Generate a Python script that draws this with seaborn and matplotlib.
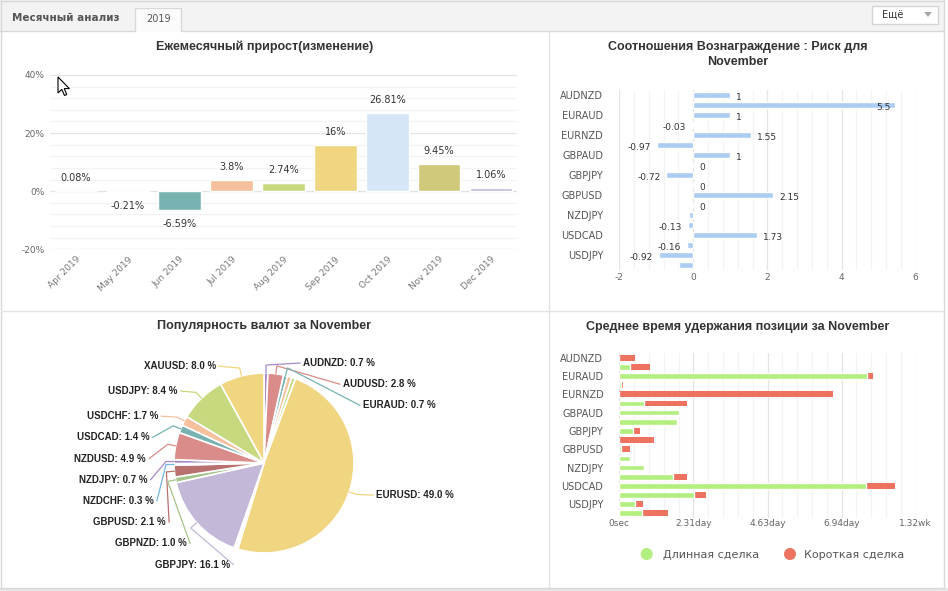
import numpy as np
import pandas as pd
import matplotlib
matplotlib.use("Agg")
import matplotlib.pyplot as plt
import seaborn as sns
from matplotlib.patches import Rectangle, Polygon, Circle
from matplotlib.ticker import MultipleLocator, FuncFormatter

# ---------------- data ----------------
months = ["Apr 2019", "May 2019", "Jun 2019", "Jul 2019", "Aug 2019",
          "Sep 2019", "Oct 2019", "Nov 2019", "Dec 2019"]
monthly_growth = [0.08, -0.21, -6.59, 3.8, 2.74, 16, 26.81, 9.45, 1.06]

symbols = ["AUDNZD", "AUDUSD", "EURAUD", "EURJPY", "EURNZD", "EURUSD",
           "GBPAUD", "GBPCHF", "GBPJPY", "GBPNZD", "GBPUSD", "NZDCHF",
           "NZDJPY", "NZDUSD", "USDCAD", "USDCHF", "USDJPY", "XAUUSD"]
reward_risk = [1, 5.45, 1, -0.03, 1.55, -0.97, 1, 0, -0.72, 0, 2.15, 0,
               -0.11, -0.13, 1.73, -0.16, -0.92, -0.39]
reward_risk_labels = ["1", "5.5", "1", "-0.03", "1.55", "-0.97", "1", "0",
                      "-0.72", "0", "2.15", "0", "", "-0.13", "1.73",
                      "-0.16", "-0.92", ""]

pie_share = [0.7, 2.8, 0.7, 0.8, 0.7, 49.0, 0.35, 0.35, 16.1, 1.0, 2.1,
             0.3, 0.7, 4.9, 1.4, 1.7, 8.4, 8.0]
pie_labelled = [True, True, True, False, False, True, False, False, True,
                True, True, True, True, True, True, True, True, True]

hold_long_days = [0, 0.33, 7.74, 0.06, 0, 0.76, 1.86, 1.81, 0.44, 0, 0.04,
                  0.33, 0.78, 1.69, 7.70, 2.34, 0.49, 0.71]
hold_short_days = [0.48, 0.62, 0.17, 0.04, 6.67, 1.36, 0, 0, 0.22, 1.09,
                   0.28, 0, 0, 0.43, 0.92, 0.37, 0.26, 0.81]

legend_labels = ["Длинная сделка", "Короткая сделка"]

# ---------------- style ----------------
palette12 = ["#a58bc7", "#d98c89", "#78b3b2", "#f4c09d", "#c6d97e", "#f0d680",
             "#d5e6f6", "#d0c87a", "#c3b8d7", "#a4c48a", "#b9716f", "#73b5e3"]
rr_color = "#abcdf2"
long_color = "#b3ef80"
short_color = "#ee7260"
grid_major = "#e4e4e4"
grid_minor = "#f3f3f3"
tick_col = "#666666"
title_kw = dict(family=["Liberation Sans", "DejaVu Sans"], weight="bold",
                fontsize=9, color="#333333", ha="center", va="center")

sns.set_theme(style="white")
plt.rcParams["font.family"] = ["DejaVu Sans"]
plt.rcParams["axes.unicode_minus"] = False

W, H = 948, 591
fig = plt.figure(figsize=(W / 100, H / 100), dpi=100)
fig.patch.set_facecolor("white")


def box(l, t, r, b):
    return [l / W, 1 - b / H, (r - l) / W, (b - t) / H]


def clean(ax):
    for s in ax.spines.values():
        s.set_visible(False)
    ax.set_xlabel("")
    ax.set_ylabel("")
    ax.tick_params(length=0, which="both")


# ---------------- overlay (frame, header, pie) ----------------
ax0 = fig.add_axes([0, 0, 1, 1], zorder=0)
ax0.set_xlim(0, W)
ax0.set_ylim(H, 0)
ax0.axis("off")

ax0.add_patch(Rectangle((0, 0), 944, 30.5, facecolor="#f3f3f3", edgecolor="none"))
ax0.add_patch(Rectangle((0, 588), W, 3, facecolor="#e6e6e6", edgecolor="none"))
ax0.plot([0.5, 944.5], [0.5, 0.5], color="#d8d8d8", lw=1)
ax0.plot([0.5, 0.5], [0, 588], color="#d8d8d8", lw=1)
ax0.plot([944.5, 944.5], [0, 588], color="#d8d8d8", lw=1)
ax0.plot([0, 944.5], [587.5, 587.5], color="#d8d8d8", lw=1)
ax0.plot([0, 135], [30.5, 30.5], color="#d8d8d8", lw=1)
ax0.plot([182, 944], [30.5, 30.5], color="#d8d8d8", lw=1)
ax0.add_patch(Rectangle((135, 7), 47, 24.5, facecolor="#fbfbfb", edgecolor="none"))
ax0.plot([135.5, 135.5, 181.5, 181.5], [31, 7.5, 7.5, 31], color="#d8d8d8", lw=1)
ax0.text(12, 18, "Месячный анализ", fontsize=7.5, weight="bold", color="#555555",
         va="center", ha="left")
ax0.text(158.5, 19, "2019", fontsize=7, color="#555555", va="center", ha="center")
ax0.add_patch(Rectangle((872, 6), 66, 18, facecolor="white", edgecolor="#d5d5d5", lw=1))
ax0.text(893, 15, "Ещё", fontsize=7, color="#333333", va="center", ha="center")
ax0.add_patch(Polygon([[924, 12], [932, 12], [928, 17]], closed=True,
                      facecolor="#a8a8a8", edgecolor="none"))
# panel dividers
ax0.plot([549.5, 549.5], [31, 587], color="#e3e3e3", lw=1)
ax0.plot([1, 944], [310.5, 310.5], color="#e3e3e3", lw=1)

# titles
ax0.text(265, 47, "Ежемесячный прирост(изменение)", **title_kw)
ax0.text(738, 47, "Соотношения Вознаграждение : Риск для", **title_kw)
ax0.text(738, 62, "November", **title_kw)
ax0.text(264, 326, "Популярность валют за November", **title_kw)
ax0.text(738, 327, "Среднее время удержания позиции за November", **title_kw)

# pie
cx, cy, R = 264, 463, 90
pie_colors = [palette12[i % 12] for i in range(len(pie_share))]
wedges, _ = ax0.pie(pie_share, colors=pie_colors, startangle=-90,
                    counterclock=True, center=(cx, cy), radius=R, frame=True,
                    wedgeprops=dict(edgecolor="white", linewidth=1.2))
ax0.set_xlim(0, W)
ax0.set_ylim(H, 0)
ax0.set_aspect("auto")
ax0.axis("off")

left_items, right_items = [], []
for i, w in enumerate(wedges):
    if not pie_labelled[i]:
        continue
    phi = np.radians((w.theta1 + w.theta2) / 2)
    ideal = cy + 100 * np.sin(phi)
    (right_items if np.cos(phi) > 0 else left_items).append((ideal, i, phi))

for items, side in ((left_items, -1), (right_items, 1)):
    items.sort()
    prev = -1e9
    for ideal, i, phi in items:
        y = max(ideal, prev + 21.2)
        prev = y
        dy = np.clip(y - cy, -105, 105)
        dx = 118 * np.sqrt(max(0.0, 1 - (dy / 106) ** 2))
        x = cx + side * dx
        label = f"{symbols[i]}: {pie_share[i]:.1f} %"
        ax0.text(x, y, label, family=["Liberation Sans", "DejaVu Sans"],
                 weight="bold", fontsize=7, color="#222222", va="center",
                 ha="left" if side > 0 else "right")
        p0 = (cx + R * np.cos(phi), cy + R * np.sin(phi))
        p1 = (cx + (R + 8) * np.cos(phi), cy + (R + 8) * np.sin(phi))
        p2 = (x - side * 3, y)
        ax0.plot([p0[0], p1[0], p2[0]], [p0[1], p1[1], p2[1]],
                 color=pie_colors[i], lw=0.9, solid_capstyle="round")

# legend for holding time
for (lx, tx), lbl, col in zip([(646.7, 663), (790, 804)], legend_labels,
                              [long_color, short_color]):
    ax0.add_patch(Circle((lx, 554), 6, facecolor=col, edgecolor="none"))
    ax0.text(tx, 555, lbl, fontsize=8, color="#555555", va="center", ha="left")

# ---------------- monthly growth bars ----------------
ax1 = fig.add_axes(box(50, 75, 517, 249.3))
df1 = pd.DataFrame({"month": months, "growth": monthly_growth})
bar_cols = [palette12[i % 12] for i in range(len(months))]
sns.barplot(data=df1, x="month", y="growth", hue="month", palette=bar_cols,
            legend=False, ax=ax1, width=0.82, saturation=1, errorbar=None)
ax1.set_ylim(-20, 40)
ax1.set_xlim(-0.5, len(months) - 0.5)
ax1.yaxis.set_major_locator(MultipleLocator(20))
ax1.yaxis.set_minor_locator(MultipleLocator(4))
ax1.yaxis.set_major_formatter(FuncFormatter(lambda v, p: f"{v:.0f}%"))
ax1.grid(axis="y", which="major", color=grid_major, lw=0.9)
ax1.grid(axis="y", which="minor", color=grid_minor, lw=0.9)
ax1.grid(axis="x", visible=False)
ax1.set_axisbelow(True)
clean(ax1)
ax1.tick_params(axis="y", labelsize=6.5, labelcolor=tick_col, pad=4)
ax1.tick_params(axis="x", labelsize=6.5, labelcolor="#777777", pad=4)
for t in ax1.get_xticklabels():
    t.set_rotation(45)
    t.set_ha("right")
    t.set_rotation_mode("anchor")
for i, v in enumerate(monthly_growth):
    ax1.annotate(f"{v:g}%", xy=(i, v), xytext=(0, 13 if v >= 0 else -14),
                 textcoords="offset pixels", ha="center", va="center",
                 fontsize=7, color="#333333")

# ---------------- reward : risk bars ----------------
ax2 = fig.add_axes(box(619, 90, 915.7, 270))
sns.barplot(x=reward_risk, y=symbols, orient="h", color=rr_color,
            saturation=1, width=0.55, ax=ax2, errorbar=None)
ax2.set_xlim(-2, 6)
ax2.set_ylim(len(symbols) - 0.5, -0.5)
ax2.xaxis.set_major_locator(MultipleLocator(2))
ax2.xaxis.set_minor_locator(MultipleLocator(0.4))
ax2.grid(axis="x", which="major", color=grid_major, lw=0.9)
ax2.grid(axis="x", which="minor", color=grid_minor, lw=0.9)
ax2.grid(axis="y", visible=False)
ax2.set_axisbelow(True)
ax2.set_yticks(range(0, len(symbols), 2))
ax2.set_yticklabels(symbols[::2])
clean(ax2)
ax2.tick_params(axis="y", labelsize=7, labelcolor="#555555", pad=11.5)
ax2.tick_params(axis="x", labelsize=6.5, labelcolor=tick_col, pad=2)
px_per_unit = 296.7 / 8
for i, (v, lbl) in enumerate(zip(reward_risk, reward_risk_labels)):
    if not lbl:
        continue
    if v >= 0 and v + 24 / px_per_unit > 6:
        dx, ha = -5, "right"
    elif v < 0:
        dx, ha = -6, "right"
    else:
        dx, ha = 6, "left"
    ax2.annotate(lbl, xy=(v, i), xytext=(dx, -2), textcoords="offset pixels",
                 ha=ha, va="center", fontsize=6.5, color="#333333")

# ---------------- holding time stacked bars ----------------
ax4 = fig.add_axes(box(619.3, 353.1, 915.7, 517.9))
long_sec = np.array(hold_long_days) * 86400
short_sec = np.array(hold_short_days) * 86400
sns.barplot(x=long_sec + short_sec, y=symbols, orient="h", color=short_color,
            saturation=1, width=0.62, ax=ax4, errorbar=None, linewidth=0)
sns.barplot(x=long_sec, y=symbols, orient="h", color=long_color,
            saturation=1, width=0.62, ax=ax4, errorbar=None,
            edgecolor="white", linewidth=1.0)
ax4.set_xlim(0, 800000)
ax4.set_ylim(len(symbols) - 0.5, -0.5)
ax4.xaxis.set_major_locator(MultipleLocator(200000))
ax4.xaxis.set_minor_locator(MultipleLocator(40000))


def fmt_time(v, p):
    if v <= 0:
        return "0sec"
    d = v / 86400
    if d < 7:
        return f"{d:.2f}day"
    return f"{d / 7:.2f}wk"


ax4.xaxis.set_major_formatter(FuncFormatter(fmt_time))
ax4.grid(axis="x", which="major", color=grid_major, lw=0.9)
ax4.grid(axis="x", which="minor", color=grid_minor, lw=0.9)
ax4.grid(axis="y", visible=False)
ax4.set_axisbelow(True)
ax4.set_yticks(range(0, len(symbols), 2))
ax4.set_yticklabels(symbols[::2])
clean(ax4)
ax4.tick_params(axis="y", labelsize=7, labelcolor="#555555", pad=11.5)
ax4.tick_params(axis="x", labelsize=6.5, labelcolor=tick_col, pad=1)

# ---------------- top overlay: mouse cursor ----------------
axc = fig.add_axes([0, 0, 1, 1], zorder=10)
axc.set_xlim(0, W)
axc.set_ylim(H, 0)
axc.axis("off")
axc.patch.set_alpha(0)
cur = np.array([[0, 0], [0, 16], [3.8, 12.4], [6.5, 18.5], [8.8, 17.5],
                [6.2, 11.6], [11.4, 11.6]]) + np.array([58, 77])
axc.add_patch(Polygon(cur, closed=True, facecolor="white", edgecolor="black",
                      lw=0.8))

fig.savefig("out.png", dpi=100, facecolor="white")
